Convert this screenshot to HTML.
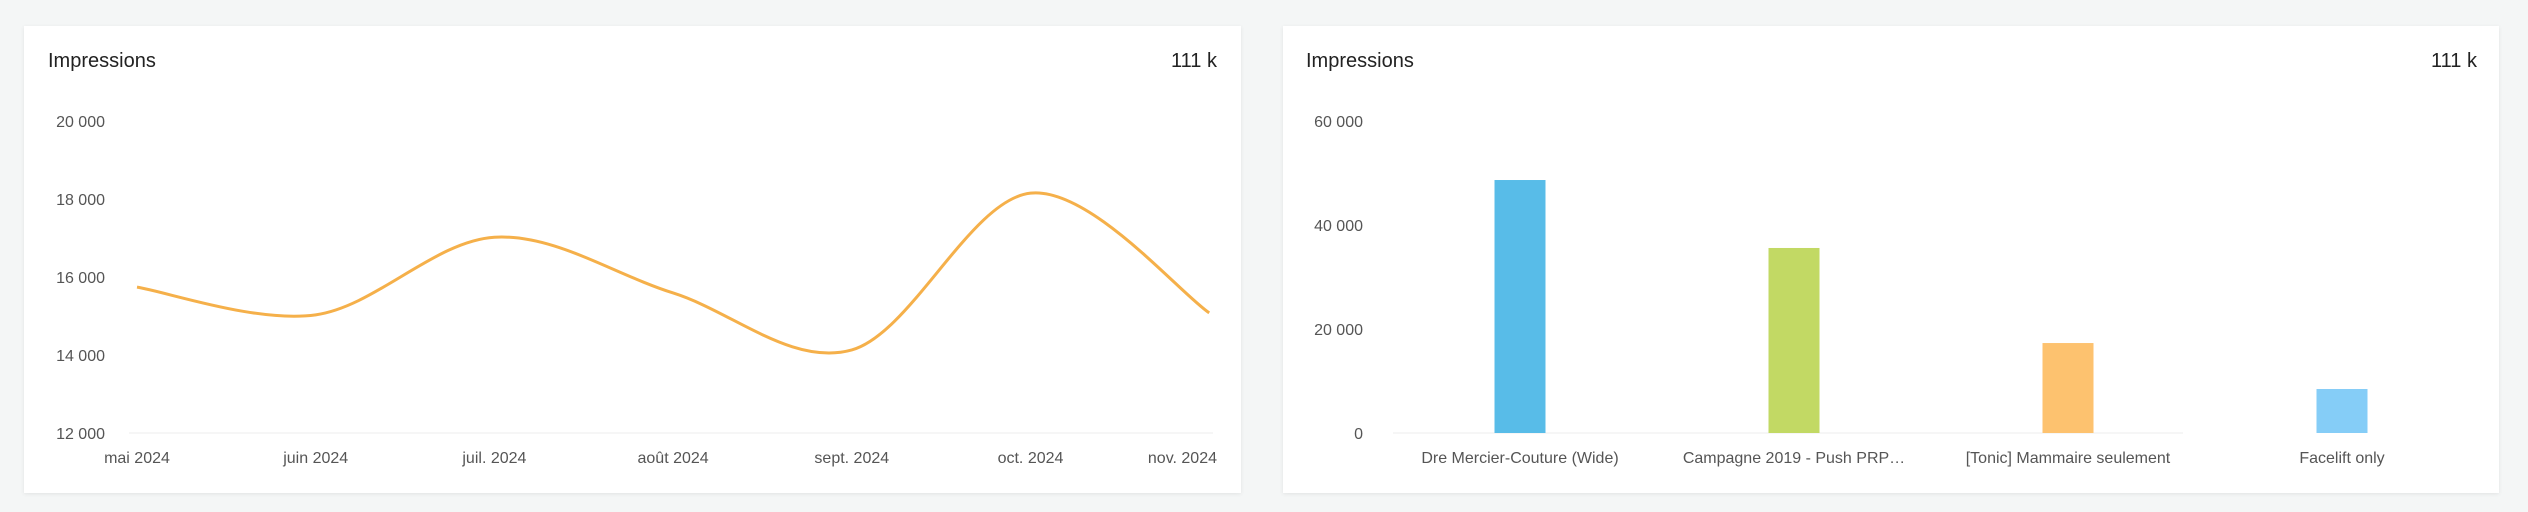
<!DOCTYPE html>
<html><head><meta charset="utf-8"><style>
body{margin:0;width:2528px;height:512px;background:#f4f6f6;font-family:"Liberation Sans",sans-serif;position:relative;overflow:hidden}
.card{position:absolute;top:26px;height:467px;background:#fff;box-shadow:0 1px 4px rgba(0,0,0,0.08)}
.t{position:absolute;font-size:20px;color:#222}
svg{position:absolute;left:0;top:0}
text{font-family:"Liberation Sans",sans-serif;fill:#555;font-size:16px}
</style></head><body>
<div class="card" style="left:24px;width:1217px"></div>
<div class="card" style="left:1283px;width:1216px"></div>
<div class="t" style="left:48px;top:50px">Impressions</div>
<div class="t" style="left:1100px;width:117px;text-align:right;top:50px">111 k</div>
<div class="t" style="left:1306px;top:50px">Impressions</div>
<div class="t" style="left:2360px;width:117px;text-align:right;top:50px">111 k</div>
<svg id="s" width="2528" height="512"></svg>
<script>
const months=["mai 2024","juin 2024","juil. 2024","août 2024","sept. 2024","oct. 2024","nov. 2024"];
const lineValues=[15740,15030,17020,15590,14130,18150,15080];
const lineTicks=[12000,14000,16000,18000,20000];
const cats=["Dre Mercier-Couture (Wide)","Campagne 2019 - Push PRP…","[Tonic] Mammaire seulement","Facelift only"];
const barValues=[48650,35580,17300,8460];
const barColors=["#58bce8","#c2d964","#fdc26f","#85cdf7"];
const barTicks=[0,20000,40000,60000];
const NS="http://www.w3.org/2000/svg",s=document.getElementById('s');
function mk(t,a,p){const e=document.createElementNS(NS,t);for(const k in a)e.setAttribute(k,a[k]);(p||s).appendChild(e);return e;}
const fmt=v=>v===0?"0":Math.floor(v/1000)+" "+String(v%1000).padStart(3,"0");
// line chart
const ly=v=>433-(v-12000)/2000*78, lx=i=>137+i*178.7;
lineTicks.forEach(v=>{const t=mk('text',{x:105,y:ly(v)+6,'text-anchor':'end'});t.textContent=fmt(v);

});
const bl=mk('line',{x1:129,x2:1213,y1:433,y2:433,stroke:'#eee'});


months.forEach((m,i)=>{const last=i===months.length-1;
const t=mk('text',{x:last?1217:lx(i),y:463,'text-anchor':last?'end':'middle'});t.textContent=m;

});
const P=lineValues.map((v,i)=>[lx(i),ly(v)]);
let d="M"+P[0][0]+","+P[0][1];
for(let i=0;i<P.length-1;i++){const p0=P[Math.max(i-1,0)],p1=P[i],p2=P[i+1],p3=P[Math.min(i+2,P.length-1)];
const c1=[p1[0]+(p2[0]-p0[0])/6,p1[1]+(p2[1]-p0[1])/6],c2=[p2[0]-(p3[0]-p1[0])/6,p2[1]-(p3[1]-p1[1])/6];
d+=` C${c1[0]},${c1[1]} ${c2[0]},${c2[1]} ${p2[0]},${p2[1]}`;}
const ln=mk('path',{d:d,fill:'none',stroke:'#f5b04a','stroke-width':3});


// bar chart
const by=v=>433-v/20000*104, bx=i=>1520+i*274;
barTicks.forEach(v=>{const t=mk('text',{x:1363,y:by(v)+6,'text-anchor':'end'});t.textContent=fmt(v);

});
const bl2=mk('line',{x1:1393,x2:2183,y1:433,y2:433,stroke:'#eee'});


cats.forEach((c,i)=>{const r=mk('rect',{x:bx(i)-25.5,y:by(barValues[i]),width:51,height:433-by(barValues[i]),fill:barColors[i]});


const t=mk('text',{x:bx(i),y:463,'text-anchor':'middle'});t.textContent=c;

});
</script>
</body></html>
